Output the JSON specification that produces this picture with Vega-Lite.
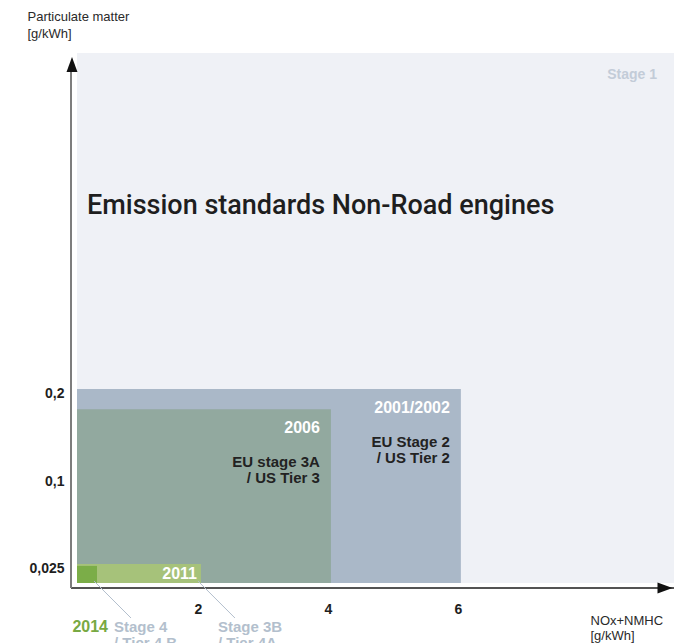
{
  "$schema": "https://vega.github.io/schema/vega-lite/v6.json",
  "width": 603,
  "height": 535,
  "autosize": {"type": "none"},
  "padding": {"left": 71, "top": 53, "right": 0, "bottom": 55},
  "background": "white",
  "config": {"view": {"stroke": null}, "font": "Liberation Sans"},
  "datasets": {
    "stages": [
      {"stage": "Stage 1", "nox": 9.28, "pm": 0.54, "label": "Stage 1"},
      {"stage": "Stage 2", "nox": 6, "pm": 0.2, "year": "2001/2002", "desc": "EU Stage 2\n/ US Tier 2"},
      {"stage": "Stage 3A", "nox": 4, "pm": 0.177, "year": "2006", "desc": "EU stage 3A\n/ US Tier 3"},
      {"stage": "Stage 3B", "nox": 2, "pm": 0.025, "year": "2011", "bottom": "Stage 3B\n/ Tier 4A"},
      {"stage": "Stage 4", "nox": 0.4, "pm": 0.0225, "year": "2014", "bottom": "Stage 4\n/ Tier 4 B"}
    ]
  },
  "layer": [
    {
      "data": {"name": "stages"},
      "mark": {"type": "rect", "x2Offset": 6},
      "encoding": {
        "x": {
          "field": "nox", "type": "quantitative",
          "scale": {"domain": [0, 9.28], "nice": false, "zero": false},
          "axis": {
            "values": [2, 4, 6], "format": "d", "domain": false, "ticks": false, "tickSize": 0, "grid": false,
            "offset": 5, "labelPadding": 20, "labelBaseline": "alphabetic", "labelOffset": -3,
            "labelFont": "Liberation Sans", "labelFontSize": 14, "labelFontWeight": "bold", "labelColor": "#1e1e1e",
            "title": ["NOx+NMHC", "[g/kWh]"], "titleX": 519, "titleY": 31, "titleAngle": 0,
            "titleAlign": "left", "titleBaseline": "alphabetic", "titleLineHeight": 15,
            "titleFont": "Liberation Sans", "titleFontSize": 13, "titleFontWeight": "normal", "titleColor": "#2a2a2a"
          }
        },
        "x2": {"datum": 0},
        "y": {
          "field": "pm", "type": "quantitative",
          "scale": {"domain": [0, 0.025, 0.1, 0.2, 0.54], "range": [530, 511, 424, 336, 0], "nice": false, "zero": false},
          "axis": {
            "values": [0.025, 0.1, 0.2], "domain": false, "ticks": false, "tickSize": 0, "grid": false,
            "labelExpr": "replace(toString(datum.value), '.', ',')",
            "labelPadding": 7, "labelOffset": 4, "labelBaseline": "middle",
            "labelFont": "Liberation Sans", "labelFontSize": 14, "labelFontWeight": "bold", "labelColor": "#1e1e1e",
            "title": ["Particulate matter", "[g/kWh]"], "titleX": -44, "titleY": -33, "titleAngle": 0,
            "titleAlign": "left", "titleBaseline": "alphabetic", "titleLineHeight": 17,
            "titleFont": "Liberation Sans", "titleFontSize": 13, "titleFontWeight": "normal", "titleColor": "#2a2a2a"
          }
        },
        "y2": {"datum": 0},
        "color": {
          "field": "stage", "type": "nominal",
          "scale": {"domain": ["Stage 1", "Stage 2", "Stage 3A", "Stage 3B", "Stage 4"],
                    "range": ["#eff1f6", "#aab8c8", "#92a99f", "#a6c27a", "#7bad48"]},
          "legend": null
        }
      }
    },
    {
      "data": {"values": [{}]},
      "mark": {"type": "rule", "color": "#1a1a1a", "strokeWidth": 1.7, "yOffset": 5},
      "encoding": {
        "y": {"datum": 0, "type": "quantitative"}
      }
    },
    {
      "data": {"values": [{}]},
      "mark": {"type": "rule", "color": "#7d7d7d", "strokeWidth": 2, "yOffset": 15, "y2Offset": 5},
      "encoding": {
        "x": {"datum": 0, "type": "quantitative"},
        "y": {"datum": 0.54, "type": "quantitative"},
        "y2": {"datum": 0}
      }
    },
    {
      "data": {"values": [{}]},
      "mark": {"type": "point", "filled": true, "opacity": 1, "color": "#111111", "size": 225,
               "shape": "M0,-1L0.73,1L-0.73,1Z", "xOffset": 1, "yOffset": 11.5},
      "encoding": {
        "x": {"datum": 0, "type": "quantitative"},
        "y": {"datum": 0.54, "type": "quantitative"}
      }
    },
    {
      "data": {"values": [{}]},
      "mark": {"type": "point", "filled": true, "opacity": 1, "color": "#111111", "size": 225,
               "shape": "M1,0L-1,0.73L-1,-0.73Z", "xOffset": -9, "yOffset": 5},
      "encoding": {
        "x": {"datum": 9.28, "type": "quantitative"},
        "y": {"datum": 0, "type": "quantitative"}
      }
    },
    {
      "data": {"name": "stages"},
      "transform": [{"filter": "isValid(datum.bottom)"}],
      "mark": {"type": "rule", "color": "#b3bfcd", "strokeWidth": 1, "xOffset": -3, "yOffset": -2, "x2Offset": 34, "y2Offset": 35},
      "encoding": {
        "x": {"field": "nox", "type": "quantitative"},
        "x2": {"field": "nox"},
        "y": {"datum": 0, "type": "quantitative"},
        "y2": {"datum": 0}
      }
    },
    {
      "data": {"name": "stages"},
      "transform": [{"filter": "isValid(datum.label)"}],
      "mark": {"type": "text", "align": "right", "baseline": "alphabetic", "dx": -17, "dy": 26,
               "font": "Liberation Sans", "fontSize": 14, "fontWeight": "bold", "color": "#c3ccd8"},
      "encoding": {
        "x": {"field": "nox", "type": "quantitative"},
        "y": {"field": "pm", "type": "quantitative"},
        "text": {"field": "label"}
      }
    },
    {
      "data": {"values": [{}]},
      "mark": {"type": "text", "align": "left", "baseline": "alphabetic", "dx": 16, "dy": 161,
               "font": "Roboto", "fontSize": 27, "fontWeight": 500, "color": "#1e1e1e",
               "text": "Emission standards Non-Road engines"},
      "encoding": {
        "x": {"datum": 0, "type": "quantitative"},
        "y": {"datum": 0.54, "type": "quantitative"}
      }
    },
    {
      "data": {"name": "stages"},
      "transform": [{"filter": {"field": "stage", "oneOf": ["Stage 2", "Stage 3A"]}}],
      "mark": {"type": "text", "align": "right", "baseline": "alphabetic", "dx": -11, "dy": 24,
               "font": "Liberation Sans", "fontSize": 16, "fontWeight": "bold", "color": "#ffffff"},
      "encoding": {
        "x": {"field": "nox", "type": "quantitative"},
        "y": {"field": "pm", "type": "quantitative"},
        "text": {"field": "year"}
      }
    },
    {
      "data": {"name": "stages"},
      "transform": [{"filter": "isValid(datum.desc)"}],
      "mark": {"type": "text", "align": "right", "baseline": "alphabetic", "dx": -11, "dy": 58,
               "lineBreak": "\n", "lineHeight": 16,
               "font": "Liberation Sans", "fontSize": 15, "fontWeight": "bold", "color": "#222222"},
      "encoding": {
        "x": {"field": "nox", "type": "quantitative"},
        "y": {"field": "pm", "type": "quantitative"},
        "text": {"field": "desc"}
      }
    },
    {
      "data": {"name": "stages"},
      "transform": [{"filter": {"field": "stage", "equal": "Stage 3B"}}],
      "mark": {"type": "text", "align": "right", "baseline": "alphabetic", "dx": -4, "dy": -4,
               "font": "Liberation Sans", "fontSize": 16, "fontWeight": "bold", "color": "#ffffff"},
      "encoding": {
        "x": {"field": "nox", "type": "quantitative"},
        "y": {"datum": 0, "type": "quantitative"},
        "text": {"field": "year"}
      }
    },
    {
      "data": {"name": "stages"},
      "transform": [{"filter": "isValid(datum.bottom)"}],
      "mark": {"type": "text", "align": "left", "baseline": "alphabetic", "dx": 17, "dy": 49,
               "lineBreak": "\n", "lineHeight": 16,
               "font": "Liberation Sans", "fontSize": 15, "fontWeight": "bold", "color": "#b3bfcd"},
      "encoding": {
        "x": {"field": "nox", "type": "quantitative"},
        "y": {"datum": 0, "type": "quantitative"},
        "text": {"field": "bottom"}
      }
    },
    {
      "data": {"name": "stages"},
      "transform": [{"filter": {"field": "stage", "equal": "Stage 4"}}],
      "mark": {"type": "text", "align": "right", "baseline": "alphabetic", "dx": 11, "dy": 49,
               "font": "Liberation Sans", "fontSize": 16, "fontWeight": "bold", "color": "#78a943"},
      "encoding": {
        "x": {"field": "nox", "type": "quantitative"},
        "y": {"datum": 0, "type": "quantitative"},
        "text": {"field": "year"}
      }
    }
  ]
}
